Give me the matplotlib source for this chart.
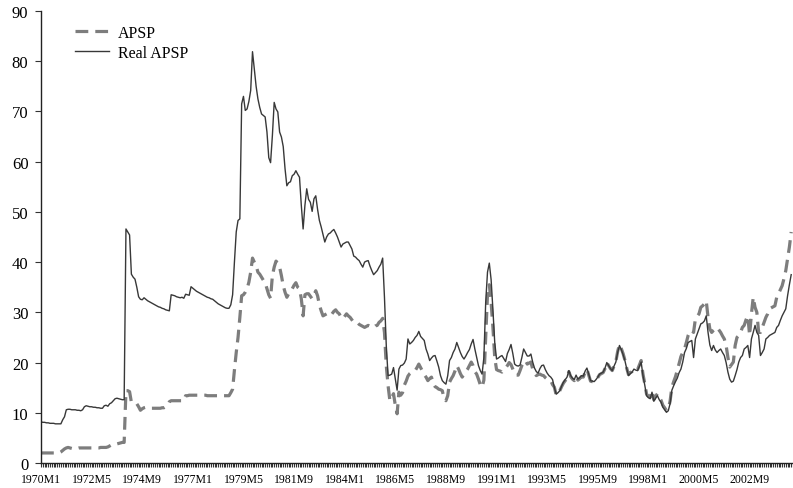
import numpy as np
import matplotlib
matplotlib.use("Agg")
import matplotlib.pyplot as plt
from matplotlib.ticker import MultipleLocator, FixedLocator

plt.rcParams['font.family'] = ['Liberation Serif', 'DejaVu Serif']

# monthly values, one row per year, starting 1970M1
apsp = [
    2.0, 2.0, 2.0, 2.0, 2.0, 2.0, 2.0, 2.0, 2.0, 2.0, 2.0, 2.2,          # 1970
    2.5, 2.8, 3.0, 3.1, 3.0, 2.9, 2.8, 2.8, 2.9, 3.0, 3.0, 3.0,          # 1971
    3.0, 3.0, 3.0, 3.0, 3.0, 3.0, 3.0, 3.0, 3.0, 3.1, 3.1, 3.1,          # 1972
    3.1, 3.2, 3.4, 3.6, 3.8, 3.8, 3.8, 3.9, 4.0, 4.1, 4.1, 14.4,         # 1973
    14.4, 14.2, 12.1, 12.0, 11.9, 11.8, 11.2, 10.5, 10.8, 11.0, 11.1, 11.0,  # 1974
    10.9, 10.9, 10.9, 10.9, 10.9, 10.9, 10.9, 11.0, 11.0, 11.2, 11.4, 12.2,  # 1975
    12.4, 12.4, 12.4, 12.4, 12.4, 12.4, 12.4, 12.4, 13.4, 13.4, 13.5, 13.5,  # 1976
    13.5, 13.5, 13.5, 13.5, 13.5, 13.5, 13.5, 13.5, 13.4, 13.4, 13.4, 13.4,  # 1977
    13.4, 13.4, 13.4, 13.4, 13.4, 13.4, 13.4, 13.4, 13.4, 14.0, 14.7, 18.5,  # 1978
    22.0, 25.0, 29.0, 33.3, 33.5, 34.0, 34.7, 36.0, 38.0, 40.8, 40.0, 39.3,  # 1979
    38.0, 37.6, 37.0, 36.4, 35.9, 34.7, 33.5, 32.8, 37.3, 39.0, 40.2, 39.8,  # 1980
    39.0, 37.3, 35.3, 34.0, 33.0, 33.7, 34.0, 34.7, 35.4, 35.9, 35.0, 34.7,  # 1981
    32.7, 29.3, 33.5, 33.7, 33.7, 33.2, 32.7, 33.5, 34.3, 33.3, 31.5, 30.3,  # 1982
    29.3, 29.5, 29.7, 29.6, 29.3, 29.7, 30.2, 30.5, 30.0, 29.7, 29.0, 28.7,  # 1983
    29.2, 29.7, 29.3, 29.0, 28.5, 28.0, 28.0, 28.0, 27.6, 27.4, 27.2, 27.0,  # 1984
    27.2, 27.4, 27.2, 27.0, 27.0, 27.3, 27.4, 28.0, 28.3, 28.8, 26.0, 19.4,  # 1985
    15.4, 12.4, 13.0, 13.8, 11.5, 9.8, 14.1, 13.5, 14.0, 15.5, 16.3, 17.3,   # 1986
    17.8, 18.1, 18.2, 18.4, 19.0, 19.7, 19.0, 18.3, 17.6, 17.1, 16.4, 16.8,  # 1987
    17.1, 15.8, 15.2, 15.0, 14.7, 14.6, 14.4, 12.8, 12.4, 13.4, 16.1, 16.8,  # 1988
    17.4, 18.3, 19.4, 18.7, 17.8, 17.1, 17.7, 18.2, 18.7, 19.4, 20.1, 19.4,  # 1989
    18.2, 17.7, 16.7, 15.6, 15.1, 16.5, 25.0, 33.5, 35.5, 32.0, 27.0, 21.0,  # 1990
    18.6, 18.4, 18.3, 18.1, 18.5, 18.9, 19.4, 20.0, 19.6, 18.7, 17.8, 17.5,  # 1991
    17.5, 18.4, 19.4, 20.0, 20.4, 19.7, 19.9, 20.1, 18.7, 17.9, 17.4, 17.6,  # 1992
    17.7, 17.5, 17.4, 17.0, 16.7, 16.5, 16.4, 15.6, 15.1, 13.5, 13.8, 14.4,  # 1993
    15.2, 15.9, 16.4, 16.9, 18.2, 17.2, 16.7, 16.4, 17.3, 16.5, 16.8, 17.2,  # 1994
    17.1, 18.1, 18.7, 17.5, 16.3, 16.2, 16.1, 16.5, 17.0, 17.6, 17.8, 18.0,  # 1995
    18.8, 20.0, 19.4, 18.8, 18.4, 19.3, 20.2, 22.2, 23.6, 22.8, 21.8, 20.5,  # 1996
    18.9, 17.6, 18.0, 18.2, 18.9, 18.7, 18.6, 19.5, 20.4, 17.7, 15.8, 13.7,  # 1997
    13.3, 13.1, 14.4, 12.6, 13.3, 13.8, 13.0, 12.5, 11.5, 11.0, 10.4, 10.8,  # 1998
    12.3, 15.1, 16.2, 17.2, 18.5, 19.8, 21.2, 22.0, 22.7, 24.0, 25.4, 26.2,  # 1999
    26.4, 26.0, 28.7, 29.2, 29.7, 31.0, 31.3, 31.7, 32.3, 29.0, 26.7, 26.0,  # 2000
    26.4, 26.7, 27.0, 26.5, 26.0, 25.3, 24.7, 23.4, 21.0, 19.1, 19.6, 20.1,  # 2001
    23.4, 25.0, 25.4, 26.0, 27.0, 27.4, 28.5, 29.3, 25.4, 29.7, 33.0, 31.0,  # 2002
    30.0, 26.0, 26.0, 27.0, 28.0, 29.0, 29.7, 30.7, 30.9, 31.1, 31.3, 33.0,  # 2003
    33.7, 34.5, 35.3, 36.7, 38.3, 40.6, 43.0, 46.0,                          # 2004
]

real_apsp = [
    8.2, 8.1, 8.1, 8.0, 8.0, 7.9, 7.9, 7.9, 7.8, 7.8, 7.8, 7.8,          # 1970
    8.6, 9.2, 10.6, 10.7, 10.7, 10.6, 10.6, 10.6, 10.5, 10.5, 10.4, 10.6,  # 1971
    11.2, 11.4, 11.3, 11.2, 11.2, 11.1, 11.1, 11.0, 11.0, 10.9, 10.9, 11.4,  # 1972
    11.5, 11.3, 11.8, 12.0, 12.4, 12.8, 12.9, 12.8, 12.7, 12.6, 12.6, 46.6,  # 1973
    46.0, 45.4, 37.6, 37.0, 36.6, 35.0, 33.1, 32.6, 32.5, 32.9, 32.6, 32.3,  # 1974
    32.1, 31.9, 31.7, 31.5, 31.3, 31.1, 31.0, 30.8, 30.7, 30.5, 30.4, 30.3,  # 1975
    33.5, 33.4, 33.3, 33.1, 33.0, 32.9, 33.0, 32.8, 33.6, 33.5, 33.4, 35.1,  # 1976
    34.8, 34.5, 34.2, 34.0, 33.8, 33.6, 33.4, 33.2, 33.0, 32.9, 32.7, 32.6,  # 1977
    32.3, 32.0, 31.7, 31.5, 31.3, 31.1, 30.9, 30.8, 30.8, 31.5, 33.5, 40.0,  # 1978
    46.0, 48.3, 48.6, 71.5, 73.0, 70.2, 70.5, 72.0, 74.2, 81.9, 78.5, 75.0,  # 1979
    72.5, 70.8, 69.5, 69.2, 68.9, 65.9, 60.8, 59.8, 65.2, 71.8, 70.5, 69.9,  # 1980
    65.9, 64.9, 63.0, 58.6, 55.2, 55.8, 56.0, 57.2, 57.5, 58.2, 57.5, 56.9,  # 1981
    51.3, 46.6, 51.3, 54.6, 52.5, 51.9, 50.1, 52.6, 53.2, 50.5, 48.3, 47.0,  # 1982
    45.5, 44.0, 45.0, 45.6, 45.8, 46.2, 46.5, 45.8, 45.0, 44.0, 43.0, 43.6,  # 1983
    43.8, 44.0, 44.0, 43.3, 42.6, 41.2, 41.0, 40.6, 40.3, 39.6, 39.0, 40.0,  # 1984
    40.2, 40.3, 39.2, 38.3, 37.5, 37.9, 38.3, 39.0, 39.6, 40.8, 33.0, 23.4,  # 1985
    17.4, 17.5, 17.7, 19.0, 16.7, 14.5, 18.7, 19.4, 19.5, 19.9, 20.7, 24.7,  # 1986
    23.7, 24.0, 24.4, 25.0, 25.4, 26.2, 25.2, 24.8, 24.4, 22.7, 21.7, 20.4,  # 1987
    20.9, 21.3, 21.4, 20.3, 19.1, 17.4, 16.4, 16.0, 15.7, 17.4, 20.4, 21.0,  # 1988
    22.0, 22.7, 24.0, 23.0, 22.0, 21.2, 20.7, 21.3, 22.0, 22.6, 23.7, 24.6,  # 1989
    22.7, 21.0, 19.4, 18.4, 17.7, 21.0, 32.0, 38.0, 39.8, 36.5, 30.5, 24.0,  # 1990
    20.7, 20.9, 21.2, 21.4, 20.8, 20.2, 21.8, 22.6, 23.6, 21.8, 19.7, 19.4,  # 1991
    19.3, 19.5, 21.0, 22.7, 22.0, 21.3, 21.3, 21.7, 20.1, 18.9, 18.2, 17.9,  # 1992
    18.8, 19.4, 19.5, 18.6, 17.9, 17.4, 17.1, 16.6, 15.0, 13.7, 14.0, 14.4,  # 1993
    15.3, 16.1, 16.6, 17.1, 18.4, 17.4, 16.9, 16.6, 17.5, 16.7, 17.0, 17.4,  # 1994
    17.3, 18.3, 18.9, 17.7, 16.4, 16.3, 16.2, 16.6, 17.1, 17.7, 17.9, 18.1,  # 1995
    18.9, 20.0, 19.4, 18.8, 18.4, 19.3, 20.1, 22.0, 23.4, 22.6, 21.6, 20.4,  # 1996
    18.8, 17.4, 17.8, 18.1, 18.7, 18.5, 18.4, 19.2, 20.1, 17.4, 15.5, 13.4,  # 1997
    13.0, 12.8, 14.1, 12.3, 12.9, 13.4, 12.6, 12.1, 11.1, 10.6, 10.1, 10.4,  # 1998
    11.8, 14.5, 15.4, 16.2, 16.9, 18.0, 18.7, 20.1, 22.0, 22.8, 24.0, 24.2,  # 1999
    24.4, 21.0, 24.7, 25.7, 26.7, 27.7, 27.9, 28.3, 29.3, 26.0, 23.5, 22.4,  # 2000
    23.4, 22.5, 22.0, 22.4, 22.7, 22.0, 21.4, 20.0, 18.1, 16.7, 16.1, 16.3,  # 2001
    17.4, 18.6, 20.1, 21.0, 21.4, 22.7, 23.0, 23.4, 21.0, 24.7, 26.0, 27.4,  # 2002
    26.0, 25.4, 21.4, 22.0, 22.7, 24.7, 25.0, 25.4, 25.6, 25.8, 26.0, 27.0,  # 2003
    27.4, 28.4, 29.3, 30.0, 30.7, 33.3, 35.5, 37.5,                          # 2004
]

tick_months = [0, 28, 56, 84, 112, 140, 168, 196, 224, 252, 280, 308, 336, 364, 392]
tick_labels = ['1970M1', '1972M5', '1974M9', '1977M1', '1979M5', '1981M9', '1984M1',
               '1986M5', '1988M9', '1991M1', '1993M5', '1995M9', '1998M1', '2000M5', '2002M9']

months = np.arange(len(apsp))

fig = plt.figure(figsize=(7.93, 4.89), dpi=100)
ax = fig.add_axes([41 / 793, 25 / 489, 1 - 41 / 793, 452 / 489])

ax.plot(months, apsp, color='#7d7d7d', lw=2.3, dashes=(4.0, 2.2), label='APSP')
ax.plot(months, real_apsp, color='#383838', lw=1.0, label='Real APSP')

ax.set_xlim(0, 416)
ax.set_ylim(0, 90)
ax.set_yticks(range(0, 91, 10))

ax.xaxis.set_major_locator(FixedLocator(tick_months))
ax.set_xticklabels(tick_labels)
ax.xaxis.set_minor_locator(MultipleLocator(1))
ax.tick_params(axis='x', which='both', length=3, width=0.8, color='#333333', pad=4, labelsize=8.5)
ax.tick_params(axis='y', length=4, width=0.8, color='#333333', pad=5, labelsize=12)

for s in ['top', 'right']:
    ax.spines[s].set_visible(False)
for s in ['left', 'bottom']:
    ax.spines[s].set_color('#222222')
    ax.spines[s].set_linewidth(1.0)

ax.legend(loc='upper left', bbox_to_anchor=(75 / 793, 1 - 26 / 489),
          bbox_transform=fig.transFigure, frameon=False, fontsize=11.5,
          handlelength=2.1, handletextpad=0.6, labelspacing=0.25, borderpad=0,
          borderaxespad=0)

fig.savefig('out.png', dpi=100)
